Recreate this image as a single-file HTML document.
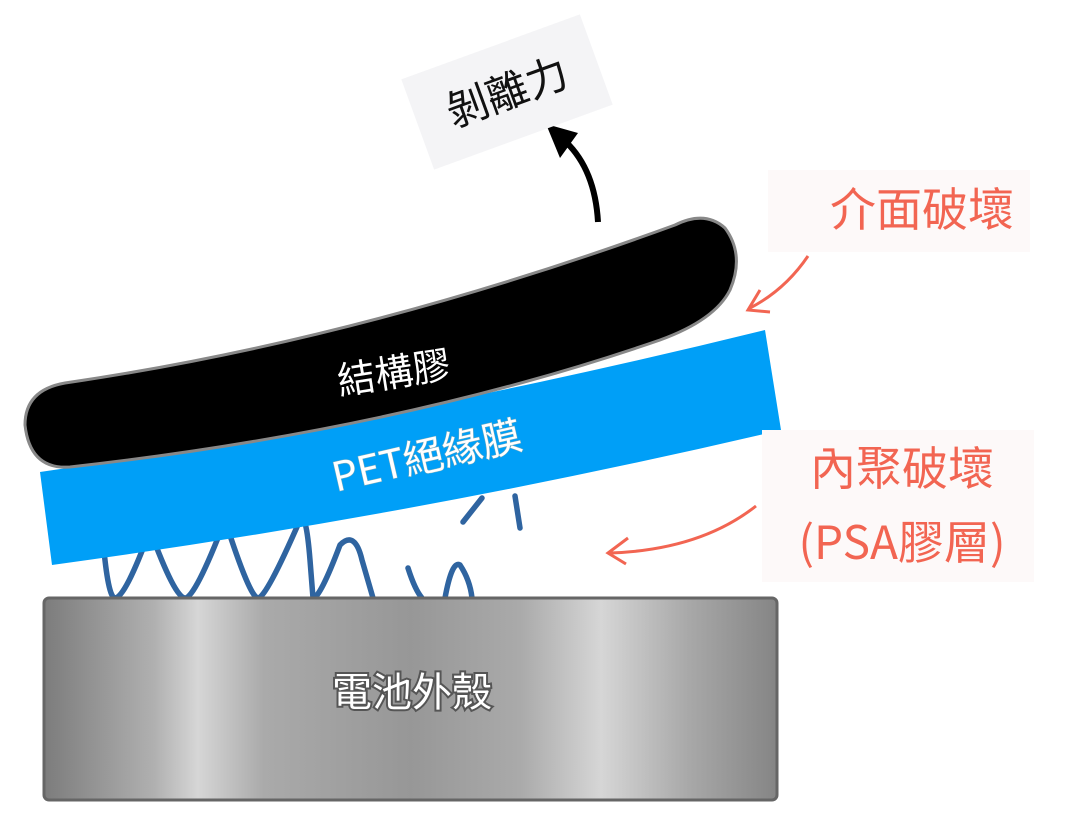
<!DOCTYPE html>
<html><head><meta charset="utf-8"><style>
html,body{margin:0;padding:0;background:#fff;width:1080px;height:824px;overflow:hidden}
svg{display:block}
text{font-family:"Noto Sans CJK TC","Liberation Sans",sans-serif}
</style></head><body>
<svg width="1080" height="824" viewBox="0 0 1080 824" xmlns="http://www.w3.org/2000/svg">
<defs>
<linearGradient id="g" x1="0" x2="1" y1="0" y2="0">
<stop offset="0" stop-color="#7c7c7c"/>
<stop offset="0.15" stop-color="#b0b0b0"/>
<stop offset="0.21" stop-color="#d6d6d6"/>
<stop offset="0.3" stop-color="#aaaaaa"/>
<stop offset="0.5" stop-color="#979797"/>
<stop offset="0.65" stop-color="#aaaaaa"/>
<stop offset="0.76" stop-color="#d6d6d6"/>
<stop offset="0.88" stop-color="#a8a8a8"/>
<stop offset="1" stop-color="#858585"/>
</linearGradient>
</defs>
<!-- springs -->
<g fill="none" stroke="#2f64a0" stroke-width="5.5" stroke-linejoin="round" stroke-linecap="round">
<path d="M103,540 Q108,598 115,598 Q125,598 150,530 M150,530 Q175,598 185,598 Q195,598 225,520 M225,520 Q250,598 258,598 Q266,598 300,520 Q306,510 310,560 L313,598 Q320,598 340,545 Q355,530 362,560 L373,598"/>
<path d="M408,568 Q415,590 422,598 M445,598 Q452,560 460,565 Q470,580 472,598"/>
<path d="M463,522 L482,498 M515,496 L520,528"/>
</g>
<!-- battery case -->
<rect x="44" y="598" width="733" height="202" rx="5" fill="url(#g)" stroke="#666" stroke-width="3"/>
<text x="412" y="706" font-size="40" text-anchor="middle" fill="#fff" stroke="#555" stroke-width="4" paint-order="stroke">電池外殼</text>
<!-- PET film -->
<path d="M40,472 Q400,420 765,330 L781,430 Q420,515 52,565 Z" fill="#009ff7"/>
<!-- structural glue -->
<path d="M65,383 Q360,340 675,225 Q705,210 725,228 Q745,255 730,290 Q715,320 660,340 Q400,430 70,467 Q30,470 25,425 Q25,390 65,383 Z" fill="#000" stroke="#888" stroke-width="3"/>
<text transform="translate(396,386) rotate(-9)" font-size="38" text-anchor="middle" fill="#fff">結構膠</text>
<text transform="translate(430,470) rotate(-13)" font-size="40" text-anchor="middle" fill="#fff" stroke="#7ab" stroke-width="1" paint-order="stroke">PET絕緣膜</text>
<!-- peel arrow -->
<path d="M598,222 Q595,170 566,142" fill="none" stroke="#000" stroke-width="6"/>
<polygon points="546,124 578,133 560,158" fill="#000"/>
<g transform="translate(507,92) rotate(-20)">
<rect x="-95" y="-48" width="190" height="96" fill="#f4f4f6"/>
<text x="0" y="15" font-size="42" text-anchor="middle" fill="#111">剝離力</text>
</g>
<!-- labels -->
<rect x="768" y="170" width="262" height="82" fill="#fdf9f9"/>
<text x="922" y="226" font-size="46" text-anchor="middle" fill="#f26552">介面破壞</text>
<path d="M808,256 Q785,290 750,308" fill="none" stroke="#f26552" stroke-width="3"/>
<path d="M760,290 L748,310 L770,312" fill="none" stroke="#f26552" stroke-width="3"/>
<rect x="762" y="430" width="272" height="152" fill="#fdf9f9"/>
<text x="902" y="485" font-size="46" text-anchor="middle" fill="#f26552">內聚破壞</text>
<text x="902" y="559" font-size="46" text-anchor="middle" fill="#f26552">(PSA膠層)</text>
<path d="M756,506 Q700,550 610,553" fill="none" stroke="#f26552" stroke-width="3"/>
<path d="M628,538 L608,553 L626,564" fill="none" stroke="#f26552" stroke-width="3"/>
</svg>
</body></html>
